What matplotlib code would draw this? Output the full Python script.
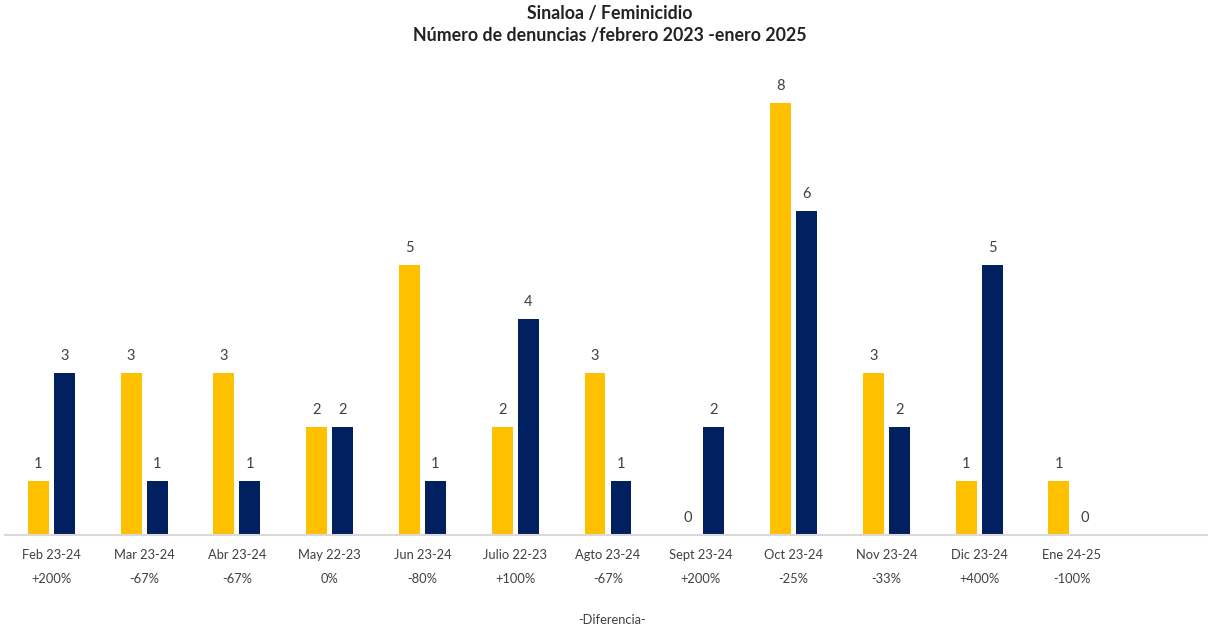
import numpy as np
import matplotlib.pyplot as plt

plt.rcParams['font.family'] = ['Lato', 'DejaVu Sans']

# datos
meses = ['Feb 23-24', 'Mar 23-24', 'Abr 23-24', 'May 22-23', 'Jun 23-24', 'Julio 22-23',
         'Agto 23-24', 'Sept 23-24', 'Oct 23-24', 'Nov 23-24', 'Dic 23-24', 'Ene 24-25']
diferencia = ['+200%', '-67%', '-67%', '0%', '-80%', '+100%',
              '-67%', '+200%', '-25%', '-33%', '+400%', '-100%']
serie_a = [1, 3, 3, 2, 5, 2, 3, 0, 8, 3, 1, 1]
serie_b = [3, 1, 1, 2, 1, 4, 1, 2, 6, 2, 5, 0]

amarillo = '#FFC000'
azul = '#002060'
gris = '#404040'

fig = plt.figure(figsize=(12.08, 6.28), dpi=100)
ax = fig.add_axes([5 / 1208, 93 / 628, 1206 / 1208, 486 / 628])

x = np.arange(len(meses))
w = 0.226
b1 = ax.bar(x - 0.14, serie_a, width=w, color=amarillo)
b2 = ax.bar(x + 0.14, serie_b, width=w, color=azul)
for bars in (b1, b2):
    ax.bar_label(bars, padding=7, fontsize=10.5, color=gris)

ax.set_xlim(-0.5, 12.5)
ax.set_ylim(0, 9)
ax.set_xticks(x)
ax.set_xticklabels([m + '\n' + d for m, d in zip(meses, diferencia)],
                   fontsize=9.3, color=gris, linespacing=2.25)
ax.tick_params(axis='x', length=0, pad=10)
ax.set_yticks([])
for s in ['top', 'right', 'left']:
    ax.spines[s].set_visible(False)
ax.spines['bottom'].set_color('#D9D9D9')
ax.spines['bottom'].set_linewidth(1.5)

fig.text(612 / 1208, 1 - 620 / 628, '-Diferencia-', ha='center', va='center',
         fontsize=9.3, color=gris)
fig.text(610 / 1208, 1 - 14 / 628, 'Sinaloa / Feminicidio', ha='center', va='center',
         fontsize=12.8, fontweight='bold', color='#222222')
fig.text(610 / 1208, 1 - 36 / 628, 'Número de denuncias /febrero 2023 -enero 2025',
         ha='center', va='center', fontsize=12.8, fontweight='bold', color='#222222')

fig.savefig('out.png', dpi=100)
